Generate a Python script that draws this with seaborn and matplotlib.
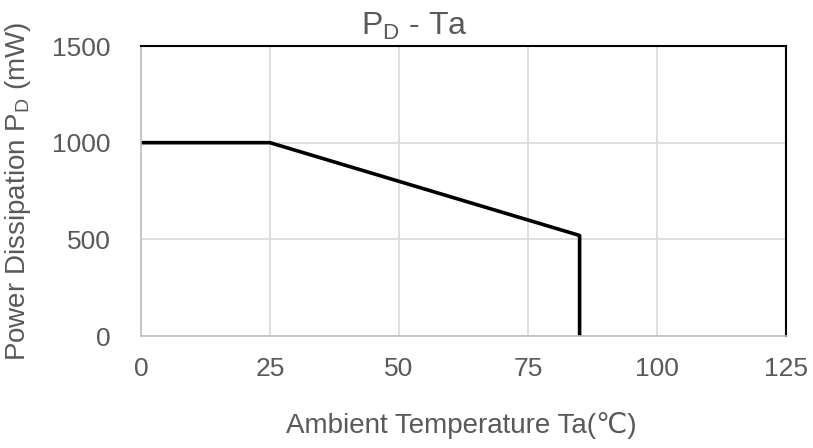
import pandas as pd
import matplotlib.pyplot as plt
import seaborn as sns

# derating curve
temp = [0, 25, 85, 85]
power = [1000, 1000, 520, 0]

x_ticks = [0, 25, 50, 75, 100, 125]
y_ticks = [0, 500, 1000, 1500]

dados = pd.DataFrame({"Ta": temp, "PD": power})

sns.set_style("white")
plt.rcParams['font.family'] = ['Liberation Sans', 'DejaVu Sans']
plt.rcParams['mathtext.fontset'] = 'custom'
plt.rcParams['mathtext.rm'] = 'Liberation Sans'
plt.rcParams['mathtext.it'] = 'Liberation Sans'

cinza = "#595959"

fig = plt.figure(figsize=(8.13, 4.48), dpi=100)
ax = fig.add_axes([0.1734, 0.25, 0.7934, 0.6473])

ax.grid(True, color="#d9d9d9", linewidth=1.2)
ax.set_axisbelow(True)

sns.lineplot(data=dados, x="Ta", y="PD", sort=False, estimator=None,
             color="black", linewidth=2.6, ax=ax)

ax.set_xlim(0, 125)
ax.set_ylim(0, 1500)
ax.set_xticks(x_ticks)
ax.set_yticks(y_ticks)
ax.tick_params(axis="both", length=0, labelsize=19, labelcolor=cinza)
ax.tick_params(axis="x", pad=15)
ax.tick_params(axis="y", pad=22)

ax.spines["top"].set_color("black")
ax.spines["top"].set_linewidth(1.5)
ax.spines["right"].set_color("black")
ax.spines["right"].set_linewidth(1.5)
ax.spines["left"].set_color("#bfbfbf")
ax.spines["left"].set_linewidth(1.2)
ax.spines["bottom"].set_color("#bfbfbf")
ax.spines["bottom"].set_linewidth(1.2)

ax.set_xlabel("")
ax.set_ylabel("")
fig.text(0.568, 0.05, "Ambient Temperature Ta(\u2103)", fontsize=20,
         color=cinza, ha="center", va="center")
fig.text(0.022, 0.573, r"Power Dissipation P$_\mathregular{D}$ (mW)",
         fontsize=20, color=cinza, ha="center", va="center", rotation=90)
fig.text(0.509, 0.942, r"P$_\mathregular{D}$ - Ta", fontsize=23,
         color=cinza, ha="center", va="center")

fig.savefig("out.png", dpi=100)
